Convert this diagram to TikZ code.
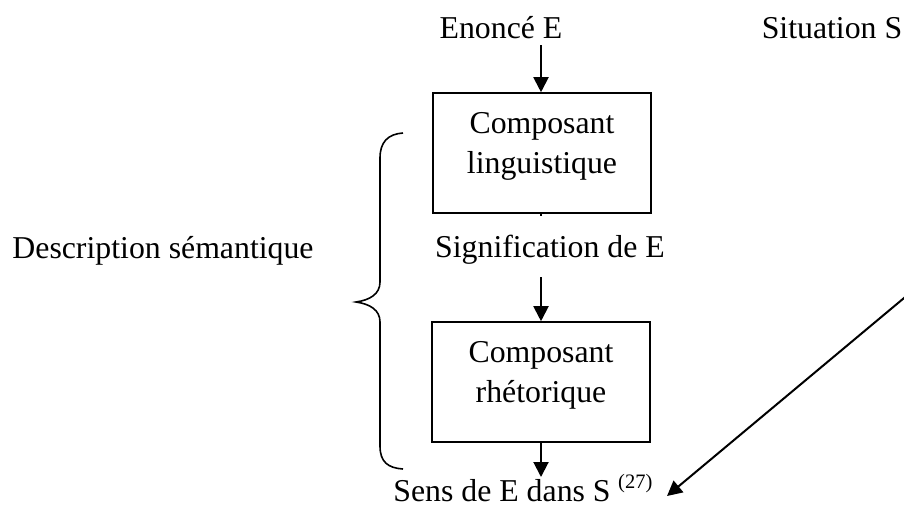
\documentclass[tikz,border=0pt]{standalone}
\usepackage{fontspec}
\setmainfont{Liberation Serif}
\usetikzlibrary{arrows.meta}
\begin{document}
\begin{tikzpicture}[x=1pt,y=-1pt,
  txt/.style={inner sep=0pt,anchor=base,font=\fontsize{31.8}{40}\selectfont},
  compbox/.style={draw,line width=1.6pt,minimum width=218pt,minimum height=120pt,inner sep=0pt},
  arr/.style={line width=2pt,-{Triangle[length=15pt,width=15pt]}},
  ln/.style={line width=1.6pt}]
\useasboundingbox (0,0) rectangle (904,507);
\node[txt] (enonce) at (501,38) {Enoncé E};
\node[txt] (situation) at (832,38) {Situation S};
\node[compbox] (box1) at (542,153) {};
\node[txt] (b1a) at (542,133) {Composant};
\node[txt] (b1b) at (542,173) {linguistique};
\node[txt] (signif) at (550,257) {Signification de E};
\node[txt] (descr) at (163,258) {Description sémantique};
\node[compbox] (box2) at (541,382) {};
\node[txt] (b2a) at (541,362) {Composant};
\node[txt] (b2b) at (541,402) {rhétorique};
\node[txt] (sens) at (502,501) {Sens de E dans S};
\node[inner sep=0pt,anchor=base west,font=\fontsize{20.5}{22}\selectfont] (sup) at (618,488) {(27)};
\coordinate (t1) at (541,45);
\coordinate (t2) at (541,216);
\coordinate (t3) at (541,277);
\coordinate (t4) at (541,477);
\coordinate (d0) at (916,288);
\coordinate (d1) at (667,496);
\draw[arr] (t1) -- (t1 |- box1.north);
\draw[ln] (t2 |- box1.south) -- (t2);
\draw[arr] (t3) -- (t3 |- box2.north);
\draw[arr] (t4 |- box2.south) -- (t4);
\draw[arr] (d0) -- (d1);
\draw[line width=1.6pt] (403,133) .. controls (388,134) and (380,142) .. (380,158) -- (380,282)
  .. controls (380,294) and (370,300) .. (356,302)
  .. controls (370,304) and (380,310) .. (380,322) -- (380,446)
  .. controls (380,462) and (388,468) .. (403,469);
\end{tikzpicture}
\end{document}
